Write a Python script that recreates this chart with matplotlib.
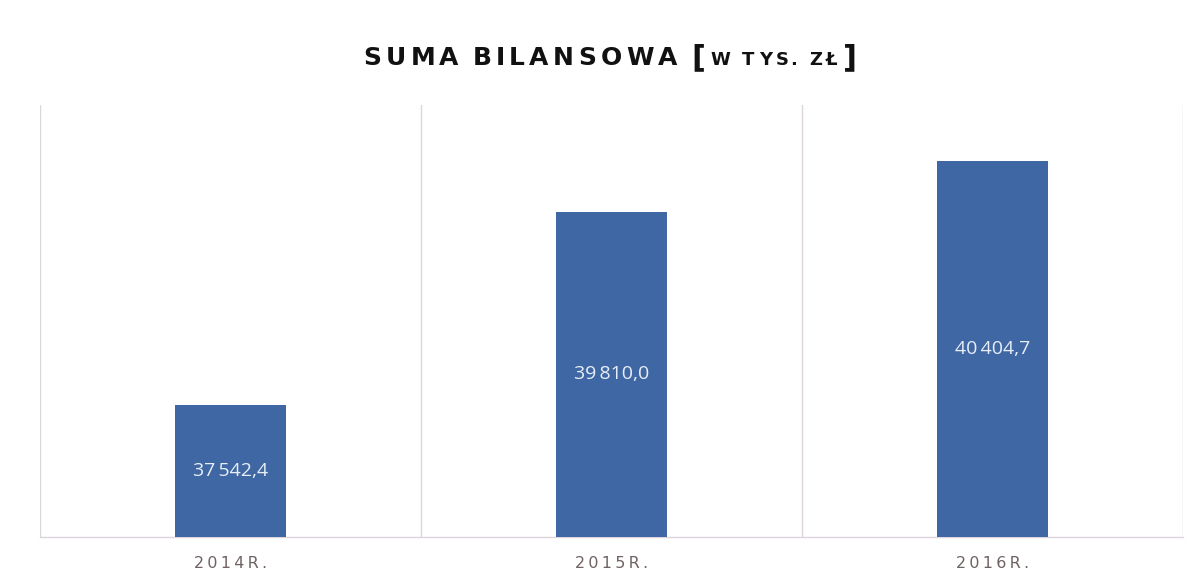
import matplotlib
matplotlib.use("Agg")
import matplotlib.pyplot as plt
import numpy as np

categories = ["2014R.", "2015R.", "2016R."]
values = [37542.4, 39810.0, 40404.7]
title_main = "SUMA BILANSOWA"
title_unit = "W TYS. ZŁ"

bar_color = "#3f67a3"
grid_color = "#dcd6dc"

fig = plt.figure(figsize=(12.01, 5.86), dpi=100)
fig.patch.set_facecolor("white")
ax = fig.add_axes([40/1201, 1-537/586, (1183-40)/1201, (537-105)/586])
ax.set_facecolor("white")

x = np.arange(len(categories))
bars = ax.bar(x, values, width=0.29, color=bar_color, zorder=3)
ax.set_xlim(-0.5, len(categories) - 0.5)
ax.set_ylim(36000, 41060)

for b in np.arange(-0.5, len(categories), 1.0):
    ax.axvline(b, color=grid_color, lw=1.0, zorder=1)

for s in ["top", "left", "right"]:
    ax.spines[s].set_visible(False)
ax.spines["bottom"].set_color(grid_color)
ax.spines["bottom"].set_linewidth(1.0)
ax.set_yticks([])
ax.set_xticks(x)
spaced = ["\u2009".join(list(c)) for c in categories]
ax.set_xticklabels(spaced, fontsize=11.5, color="#6e6262", family="DejaVu Sans")
ax.tick_params(axis="x", length=0, pad=14)

def fmt(v):
    s = f"{v:,.1f}"
    return s.replace(",", "\u2009").replace(".", ",")

for xi, v in zip(x, values):
    ax.text(xi, (36000 + v) / 2, fmt(v), ha="center", va="center",
            color="#e8eef7", fontsize=14, family=["Open Sans", "DejaVu Sans"], zorder=4)

# Title drawn char-by-char with tracking
fig.canvas.draw()
r = fig.canvas.get_renderer()
ty = 1 - 58/586
segments = [
    (title_main, 18, 0.0, 4.3, 14),
    ("[", 22, 0.0, 0.0, 5),
    (title_unit, 13, -0.004, 4.2, 5),
    ("]", 22, 0.0, 0.0, 0),
]
items = []
total = 0.0
for text, size, dy, track, gap in segments:
    chars = []
    for i, ch in enumerate(text):
        t = fig.text(0, ty + dy, ch, fontsize=size, fontweight="bold", color="#111111",
                     family="DejaVu Sans", va="center", ha="left")
        if ch == " ":
            w = size * 100 / 72 * 0.2
        else:
            w = t.get_window_extent(r).width
        nxt = text[i + 1] if i + 1 < len(text) else None
        if nxt is None:
            adv = w
        elif nxt == ".":
            adv = w + 1
        else:
            adv = w + track
        chars.append((t, adv))
    seg_w = sum(a for _, a in chars)
    items.append((chars, gap))
    total += seg_w + gap
cur = 610 - total / 2
for chars, gap in items:
    for t, adv in chars:
        t.set_x(cur / 1201)
        cur += adv
    cur += gap

fig.savefig("out.png", dpi=100, facecolor="white")
